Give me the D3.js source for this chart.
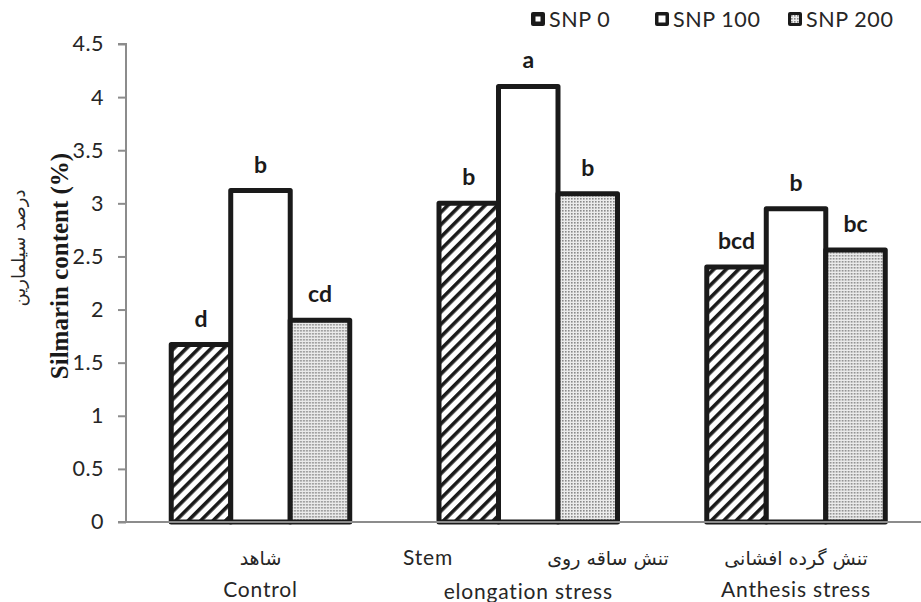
<!DOCTYPE html>
<html><head><meta charset="utf-8">
<script src="https://cdn.jsdelivr.net/npm/d3@7"></script>
<style>body{margin:0;background:#fff}</style>
</head><body>
<script>
const categories = ["Control", "Stem elongation stress", "Anthesis stress"];
const series = ["SNP 0", "SNP 100", "SNP 200"];
const snp0 = [1.67, 3.0, 2.4];
const snp100 = [3.12, 4.1, 2.95];
const snp200 = [1.9, 3.09, 2.56];
const letters0 = ["d", "b", "bcd"];
const letters100 = ["b", "a", "b"];
const letters200 = ["cd", "b", "bc"];
const yTicks = [0, 0.5, 1, 1.5, 2, 2.5, 3, 3.5, 4, 4.5];

const W = 921, H = 602;
const svg = d3.select("body").append("svg").attr("width", W).attr("height", H);
const defs = svg.append("defs");
const hatch = defs.append("pattern").attr("id", "hatch").attr("patternUnits", "userSpaceOnUse")
  .attr("width", 8.8).attr("height", 8.8).attr("patternTransform", "rotate(45)");
hatch.append("rect").attr("width", 8.8).attr("height", 8.8).attr("fill", "#fff");
hatch.append("rect").attr("x", 0).attr("width", 3.6).attr("height", 8.8).attr("fill", "#1a1a1a");
const dots = defs.append("pattern").attr("id", "dots").attr("patternUnits", "userSpaceOnUse")
  .attr("width", 3).attr("height", 3);
dots.append("rect").attr("width", 3).attr("height", 3).attr("fill", "#ebebeb");
dots.append("rect").attr("width", 1.6).attr("height", 1.6).attr("fill", "#8a8a8a");

const fills = ["url(#hatch)", "#fff", "url(#dots)"];

const y = d3.scaleLinear().domain([0, 4.5]).range([522, 44]);
const x = d3.scaleBand().domain(categories).range([126.6, 929.9]).padding(0);
const groupW = 178.5;
const xs = d3.scaleBand().domain(series).range([0, groupW]).padding(0);

const data = categories.map((c, i) => ({
  cat: c,
  vals: [
    {s: series[0], v: snp0[i], l: letters0[i]},
    {s: series[1], v: snp100[i], l: letters100[i]},
    {s: series[2], v: snp200[i], l: letters200[i]}
  ]
}));

const g = svg.append("g");
const groups = g.selectAll("g.grp").data(data).join("g")
  .attr("transform", d => `translate(${x(d.cat) + x.bandwidth() / 2 - groupW / 2},0)`);
groups.selectAll("rect").data(d => d.vals).join("rect")
  .attr("x", d => xs(d.s))
  .attr("y", d => y(d.v))
  .attr("width", xs.bandwidth())
  .attr("height", d => y(0) - y(d.v))
  .attr("fill", (d, i) => fills[i])
  .attr("stroke", "#1a1a1a")
  .attr("stroke-width", 5)
  .attr("stroke-linejoin", "round");
groups.selectAll("text").data(d => d.vals).join("text")
  .attr("x", d => xs(d.s) + xs.bandwidth() / 2)
  .attr("y", d => y(d.v) - 18)
  .attr("text-anchor", "middle")
  .attr("font-family", "Lato, sans-serif")
  .attr("font-weight", "bold")
  .attr("font-size", 23)
  .attr("fill", "#1a1a1a")
  .text(d => d.l);

// axes
const yAxis = d3.axisLeft(y).tickValues(yTicks).tickSize(8).tickPadding(14).tickFormat(d3.format("~g"));
const ya = svg.append("g").attr("transform", "translate(126,0)").call(yAxis);
ya.select(".domain").attr("stroke", "#8c8c8c").attr("stroke-width", 2).attr("d", "M-8,44H0V522");
ya.selectAll(".tick line").attr("stroke", "#8c8c8c").attr("stroke-width", 2);
ya.selectAll(".tick text").attr("font-family", "Lato, sans-serif").attr("font-size", 21.5)
  .attr("fill", "#262626").attr("letter-spacing", 0.5);

svg.append("line").attr("x1", 118).attr("x2", 921).attr("y1", y(0)).attr("y2", y(0))
  .attr("stroke", "#8c8c8c").attr("stroke-width", 2);

// category labels
const cx = c => x(c) + x.bandwidth() / 2;
const catLabels = [
  {t: "شاهد", x: cx(categories[0]), y: 565, fa: true},
  {t: "Control", x: cx(categories[0]), y: 597, fa: false},
  {t: "Stem", x: 428, y: 565, fa: false},
  {t: "تنش ساقه روی", x: 608, y: 565, fa: true},
  {t: "elongation stress", x: cx(categories[1]), y: 599, fa: false},
  {t: "تنش گرده افشانی", x: cx(categories[2]), y: 565, fa: true},
  {t: "Anthesis stress", x: cx(categories[2]), y: 597, fa: false}
];
svg.append("g").selectAll("text").data(catLabels).join("text")
  .attr("x", d => d.x).attr("y", d => d.y)
  .attr("text-anchor", "middle")
  .attr("font-family", d => d.fa ? "DejaVu Sans, sans-serif" : "Lato, sans-serif")
  .attr("font-size", d => d.fa ? 19 : 21)
  .attr("letter-spacing", d => d.fa ? 0 : 0.8)
  .attr("fill", "#262626")
  .text(d => d.t);

// y titles
svg.append("text").attr("transform", "translate(68,266) rotate(-90)")
  .attr("text-anchor", "middle").attr("font-family", "Liberation Serif, serif")
  .attr("font-weight", "bold").attr("font-size", 25).attr("fill", "#1a1a1a")
  .text("Silmarin content (%)");
svg.append("text").attr("transform", "translate(25,248) rotate(-90)")
  .attr("text-anchor", "middle").attr("font-family", "DejaVu Sans, sans-serif")
  .attr("font-size", 18).attr("fill", "#262626")
  .text("درصد سیلمارین");

// legend
const legX = [531, 655, 788];
const leg = svg.append("g").selectAll("g").data(series).join("g")
  .attr("transform", (d, i) => `translate(${legX[i]},12)`);
leg.append("rect").attr("width", 14).attr("height", 14).attr("rx", 2).attr("fill", "#1a1a1a");
leg.append("rect").attr("x", (d, i) => [4.5, 3.5, 3][i]).attr("y", (d, i) => [4.5, 3.5, 3][i])
  .attr("width", (d, i) => [5, 7, 8][i]).attr("height", (d, i) => [5, 7, 8][i])
  .attr("fill", (d, i) => i === 2 ? "url(#dots)" : "#fff");
leg.append("text").attr("x", 18).attr("y", 15).attr("font-family", "Lato, sans-serif")
  .attr("font-size", 21.5).attr("letter-spacing", 0.6).attr("fill", "#262626").text(d => d);
</script>
</body></html>
